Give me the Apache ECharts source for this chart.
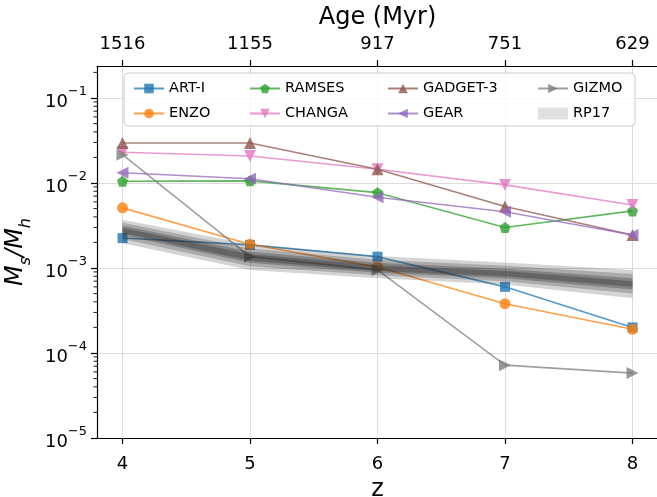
<!DOCTYPE html>
<html>
<head>
<meta charset="utf-8">
<script src="https://cdn.jsdelivr.net/npm/echarts@6/dist/echarts.min.js"></script>
<style>
  html, body { margin: 0; padding: 0; background: #ffffff; }
  #chart { width: 657px; height: 497px; }
</style>
</head>
<body>
<div id="chart"></div>
<script>
// Redshift samples and the matching cosmic age labels for the top axis
const redshift = [4, 5, 6, 7, 8];
const ageMyr = ['1516', '1155', '917', '751', '629'];
const majorTicks = [1e-5, 1e-4, 1e-3, 1e-2, 1e-1];

// Stellar-to-halo mass ratio per code
const artI    = [2.25e-3, 1.87e-3, 1.36e-3, 6.0e-4, 2.0e-4];
const enzo    = [5.1e-3, 1.9e-3, 1.03e-3, 3.8e-4, 1.9e-4];
const ramses  = [1.05e-2, 1.06e-2, 7.7e-3, 3.0e-3, 4.7e-3];
const changa  = [2.3e-2, 2.08e-2, 1.45e-2, 9.5e-3, 5.5e-3];
const gadget3 = [2.95e-2, 2.95e-2, 1.45e-2, 5.3e-3, 2.45e-3];
const gear    = [1.32e-2, 1.12e-2, 6.8e-3, 4.6e-3, 2.45e-3];
const gizmo   = [2.15e-2, 1.36e-3, 9.5e-4, 7.2e-5, 5.8e-5];

// RP17 relation: nested envelopes, widest first
const rp17OuterLow  = [1.95e-3, 0.95e-3, 0.76e-3, 0.64e-3, 0.44e-3];
const rp17OuterHigh = [3.7e-3, 1.9e-3, 1.38e-3, 1.16e-3, 0.95e-3];
const rp17MidLow    = [2.2e-3, 1.05e-3, 0.82e-3, 0.70e-3, 0.50e-3];
const rp17MidHigh   = [3.4e-3, 1.7e-3, 1.25e-3, 1.06e-3, 0.85e-3];
const rp17InnerLow  = [2.45e-3, 1.15e-3, 0.88e-3, 0.76e-3, 0.56e-3];
const rp17InnerHigh = [3.15e-3, 1.55e-3, 1.15e-3, 0.98e-3, 0.76e-3];
const rp17CoreLow   = [2.6e-3, 1.22e-3, 0.92e-3, 0.80e-3, 0.60e-3];
const rp17CoreHigh  = [2.95e-3, 1.45e-3, 1.08e-3, 0.92e-3, 0.70e-3];

const FONT = 'DejaVu Sans';
const X_MIN = 3.8, X_MAX = 8.2;
const Y_MIN = 1e-5, Y_MAX = 0.238;

const PENTAGON = 'path://M0,-1 L0.951,-0.309 L0.588,0.809 L-0.588,0.809 L-0.951,-0.309 Z';

function pairs(values) {
  return redshift.map((z, i) => [z, values[i]]);
}

function codeSeries(name, values, color, symbol, rotate, size) {
  return {
    name: name,
    type: 'line',
    data: pairs(values),
    symbol: symbol,
    symbolSize: size || 11,
    symbolRotate: rotate || 0,
    showSymbol: true,
    z: 2,
    lineStyle: { color: color, width: 1.6, opacity: 0.75 },
    itemStyle: { color: color, opacity: 0.8 },
    emphasis: { disabled: true },
    animation: false
  };
}

// One translucent envelope of the RP17 relation, filled between low and high
function bandLayer(name, low, high, opacity) {
  return {
    name: name,
    type: 'custom',
    silent: true,
    z: 3,
    color: '#2a2a2a',
    data: redshift.map((z, i) => [z, low[i], high[i]]),
    encode: { x: 0, y: [1, 2] },
    renderItem: (params, api) => {
      if (params.dataIndexInside !== 0) return null;
      const n = params.dataInsideLength;
      const upper = [], lower = [];
      for (let i = 0; i < n; i++) {
        const x = api.value(0, i);
        upper.push(api.coord([x, api.value(2, i)]));
        lower.push(api.coord([x, api.value(1, i)]));
      }
      return {
        type: 'polygon',
        shape: { points: upper.concat(lower.reverse()) },
        style: { fill: '#2a2a2a', opacity: opacity }
      };
    }
  };
}

// small log-axis minor ticks on the left spine (2..9 x 10^n)
const minorTickValues = [];
for (let e = -5; e <= -1; e++) {
  for (let m = 2; m <= 9; m++) {
    const v = m * Math.pow(10, e);
    if (v < Y_MAX) minorTickValues.push(v);
  }
}

const chart = echarts.init(document.getElementById('chart'), null, { renderer: 'canvas' });

const legendText = { fontFamily: FONT, fontSize: 14.5, color: '#000' };
function legendColumn(left, names) {
  return {
    orient: 'vertical',
    left: left,
    top: 76,
    itemWidth: 30,
    itemHeight: 12,
    itemGap: 10,
    textStyle: legendText,
    selectedMode: false,
    data: names,
    z: 5
  };
}

const option = {
  backgroundColor: '#ffffff',
  animation: false,
  grid: { left: 97, top: 66, width: 561, height: 372, containLabel: false, outerBoundsMode: 'none' },
  legend: [
    legendColumn(128, ['ART-I', 'ENZO']),
    legendColumn(244, ['RAMSES', 'CHANGA']),
    legendColumn(382, ['GADGET-3', 'GEAR']),
    legendColumn(532, ['GIZMO', { name: 'RP17', icon: 'rect', itemStyle: { color: '#e0e0e0', opacity: 1 } }])
  ],
  graphic: [{
    type: 'rect',
    shape: { x: 124, y: 73, width: 511, height: 53, r: 4 },
    style: { fill: 'rgba(255,255,255,0.8)', stroke: '#cccccc', lineWidth: 1 },
    z: 1
  }],
  xAxis: [
    {
      type: 'value',
      position: 'bottom',
      min: X_MIN,
      max: X_MAX,
      name: 'z',
      nameLocation: 'middle',
      nameGap: 37,
      nameTextStyle: { fontFamily: FONT, fontSize: 24, color: '#000' },
      axisLine: { show: true, onZero: false, lineStyle: { color: '#000', width: 1.2 } },
      axisTick: { show: true, inside: false, length: 6, customValues: redshift, lineStyle: { color: '#000', width: 1.2 } },
      axisLabel: { customValues: redshift, margin: 17, fontFamily: FONT, fontSize: 18, color: '#000' },
      splitLine: { show: true, lineStyle: { color: '#dcdcdc', width: 1 } }
    },
    {
      type: 'value',
      position: 'top',
      min: X_MIN,
      max: X_MAX,
      name: 'Age (Myr)',
      nameLocation: 'middle',
      nameGap: 36,
      nameTextStyle: { fontFamily: FONT, fontSize: 24, color: '#000' },
      axisLine: { show: true, onZero: false, lineStyle: { color: '#000', width: 1.2 } },
      axisTick: { show: true, inside: false, length: 6, customValues: redshift, lineStyle: { color: '#000', width: 1.2 } },
      axisLabel: {
        customValues: redshift,
        margin: 13,
        fontFamily: FONT,
        fontSize: 18,
        color: '#000',
        formatter: (v) => ageMyr[redshift.indexOf(Math.round(v))] || ''
      },
      splitLine: { show: false }
    }
  ],
  yAxis: {
    type: 'log',
    logBase: 10,
    min: Y_MIN,
    max: Y_MAX,
    name: '{m|M}{sub|s}{m|/M}{sub|h}',
    nameLocation: 'middle',
    nameRotate: 90,
    nameGap: 47,
    nameTextStyle: {
      rich: {
        m: { fontFamily: FONT, fontSize: 24, fontStyle: 'italic', color: '#000', lineHeight: 30, verticalAlign: 'top' },
        sub: { fontFamily: FONT, fontSize: 16, fontStyle: 'italic', color: '#000', lineHeight: 12, verticalAlign: 'bottom' }
      }
    },
    axisLine: { show: true, onZero: false, lineStyle: { color: '#000', width: 1.2 } },
    axisTick: { show: true, inside: false, length: 6, customValues: majorTicks, lineStyle: { color: '#000', width: 1.2 } },
    axisLabel: {
      customValues: majorTicks,
      margin: 10,
      formatter: (v) => {
        const e = Math.round(Math.log10(v));
        return '{b|10}{s|\u2212' + Math.abs(e) + '}';
      },
      rich: {
        b: { fontFamily: FONT, fontSize: 18, color: '#000', lineHeight: 26, verticalAlign: 'bottom' },
        s: { fontFamily: FONT, fontSize: 13, color: '#000', lineHeight: 13, verticalAlign: 'top' }
      }
    },
    splitLine: { show: true, lineStyle: { color: '#dcdcdc', width: 1 } }
  },
  series: [
    codeSeries('ART-I', artI, '#1f77b4', 'rect', 0, 10),
    codeSeries('ENZO', enzo, '#ff7f0e', 'circle', 0, 11),
    codeSeries('RAMSES', ramses, '#2ca02c', PENTAGON, 0, 11),
    codeSeries('CHANGA', changa, '#e377c2', 'triangle', 180, 12),
    codeSeries('GADGET-3', gadget3, '#8c564b', 'triangle', 0, 12),
    codeSeries('GEAR', gear, '#9467bd', 'triangle', 90, 12),
    codeSeries('GIZMO', gizmo, '#7f7f7f', 'triangle', -90, 12),
    bandLayer('RP17', rp17OuterLow, rp17OuterHigh, 0.2),
    bandLayer('RP17 mid', rp17MidLow, rp17MidHigh, 0.25),
    bandLayer('RP17 inner', rp17InnerLow, rp17InnerHigh, 0.3),
    bandLayer('RP17 core', rp17CoreLow, rp17CoreHigh, 0.35),
    {
      name: 'y-minor-ticks',
      type: 'custom',
      silent: true,
      clip: false,
      z: 4,
      data: minorTickValues.map(v => [X_MIN, v]),
      renderItem: (params, api) => {
        const p = api.coord([api.value(0), api.value(1)]);
        return {
          type: 'line',
          shape: { x1: p[0] - 3.5, y1: p[1], x2: p[0], y2: p[1] },
          style: { stroke: '#000', lineWidth: 0.9 }
        };
      }
    }
  ]
};

chart.setOption(option);
</script>
</body>
</html>
